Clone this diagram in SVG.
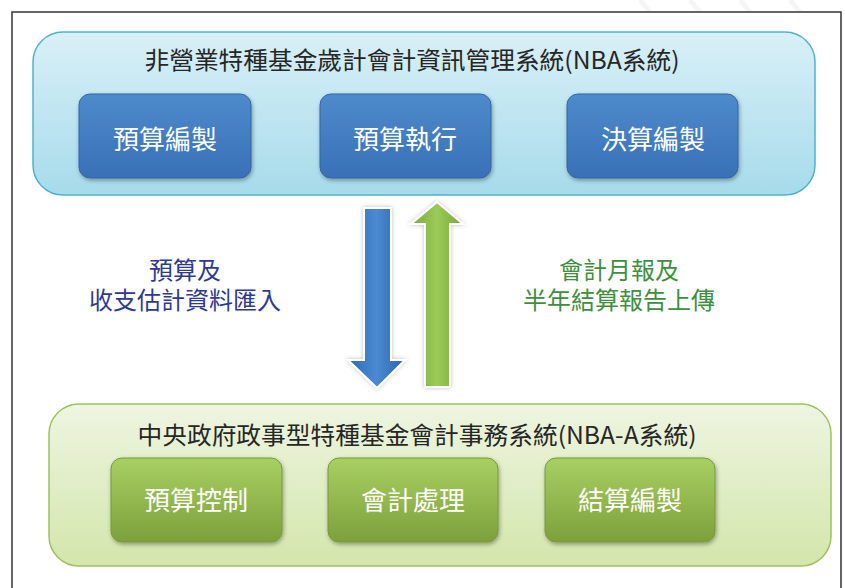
<svg xmlns="http://www.w3.org/2000/svg" width="845" height="588" viewBox="0 0 845 588">
<defs>
<linearGradient id="gTop" x1="0" y1="0" x2="0" y2="1"><stop offset="0" stop-color="#d9f0f7"/><stop offset="1" stop-color="#a6dbea"/></linearGradient>
<linearGradient id="gBot" x1="0" y1="0" x2="0" y2="1"><stop offset="0" stop-color="#eef5e1"/><stop offset="1" stop-color="#d3e6ab"/></linearGradient>
<linearGradient id="gBlue" x1="0" y1="0" x2="0" y2="1"><stop offset="0" stop-color="#4d8bcc"/><stop offset="1" stop-color="#3a70b6"/></linearGradient>
<linearGradient id="gGreen" x1="0" y1="0" x2="0" y2="1"><stop offset="0" stop-color="#a8d062"/><stop offset="1" stop-color="#7da03c"/></linearGradient>
<linearGradient id="gArrB" x1="0" y1="0" x2="1" y2="0"><stop offset="0" stop-color="#2f6cb3"/><stop offset="0.5" stop-color="#4a8ad2"/><stop offset="1" stop-color="#2c64aa"/></linearGradient>
<linearGradient id="gArrG" x1="0" y1="0" x2="1" y2="0"><stop offset="0" stop-color="#7aa83a"/><stop offset="0.5" stop-color="#9ccb5a"/><stop offset="1" stop-color="#78a436"/></linearGradient>
<filter id="sh" x="-10%" y="-10%" width="125%" height="130%"><feDropShadow dx="1" dy="2" stdDeviation="2" flood-color="#000" flood-opacity="0.35"/></filter>
<filter id="ash" x="-30%" y="-10%" width="160%" height="120%"><feDropShadow dx="0" dy="0" stdDeviation="2" flood-color="#000" flood-opacity="0.25"/></filter>
</defs>
<style>
text{font-family:"Noto Sans CJK TC","Noto Sans CJK SC",sans-serif;text-anchor:middle}
.title{font-size:24px;fill:#262626}
.nodeB rect{fill:url(#gBlue);stroke:#3465a6;stroke-width:1;filter:url(#sh)}
.nodeG rect{fill:url(#gGreen);stroke:#769a3a;stroke-width:1;filter:url(#sh)}
.nt{font-size:26px;fill:#ffffff}
.lb{font-size:24px;fill:#2d3a94}
.lg{font-size:24px;fill:#3e8f3e}
.stripe{stroke:#ececec;stroke-width:5;opacity:0.5}
</style>
<g id="bgstripes">
<line class="stripe" x1="640" y1="0" x2="650" y2="12"/>
<line class="stripe" x1="690" y1="0" x2="700" y2="12"/>
<line class="stripe" x1="740" y1="0" x2="750" y2="12"/>
<line class="stripe" x1="790" y1="0" x2="800" y2="12"/>
</g>
<path id="frame" d="M12 588 V12 H841 V588" fill="none" stroke="#333" stroke-width="1.5"/>
<g id="nba">
<rect x="33" y="32" width="782" height="163" rx="30" fill="url(#gTop)" stroke="#4fb3cc" stroke-width="1.5"/>
<text class="title" x="412" y="69" textLength="535" lengthAdjust="spacingAndGlyphs">非營業特種基金歲計會計資訊管理系統(NBA系統)</text>
</g>
<g id="n1" class="nodeB"><rect x="79" y="94" width="172" height="84" rx="11"/><text class="nt" x="165" y="149">預算編製</text></g>
<g id="n2" class="nodeB"><rect x="320" y="94" width="171" height="84" rx="11"/><text class="nt" x="405" y="149">預算執行</text></g>
<g id="n3" class="nodeB"><rect x="567" y="94" width="171" height="84" rx="11"/><text class="nt" x="653" y="149">決算編製</text></g>
<g id="nbaa">
<rect x="49" y="404" width="782" height="162" rx="30" fill="url(#gBot)" stroke="#9dc15c" stroke-width="1.5"/>
<text class="title" x="417" y="444" textLength="559" lengthAdjust="spacingAndGlyphs">中央政府政事型特種基金會計事務系統(NBA-A系統)</text>
</g>
<g id="m1" class="nodeG"><rect x="111" y="458" width="171" height="84" rx="11"/><text class="nt" x="196" y="510">預算控制</text></g>
<g id="m2" class="nodeG"><rect x="328" y="458" width="170" height="84" rx="11"/><text class="nt" x="413" y="510">會計處理</text></g>
<g id="m3" class="nodeG"><rect x="545" y="458" width="170" height="84" rx="11"/><text class="nt" x="630" y="510">結算編製</text></g>
<g id="connectors">
<path d="M364 208 H391 V360 H405 L377 388 L348 360 H364 Z" fill="url(#gArrB)" stroke="#fff" stroke-width="2" filter="url(#ash)"/>
<path d="M425 387 H450 V224 H463 L437 202 L411 224 H425 Z" fill="url(#gArrG)" stroke="#fff" stroke-width="2" filter="url(#ash)"/>
<text class="lb" x="185" y="279">預算及</text>
<text class="lb" x="185" y="309">收支估計資料匯入</text>
<text class="lg" x="619" y="279">會計月報及</text>
<text class="lg" x="619" y="309">半年結算報告上傳</text>
</g>
</svg>
